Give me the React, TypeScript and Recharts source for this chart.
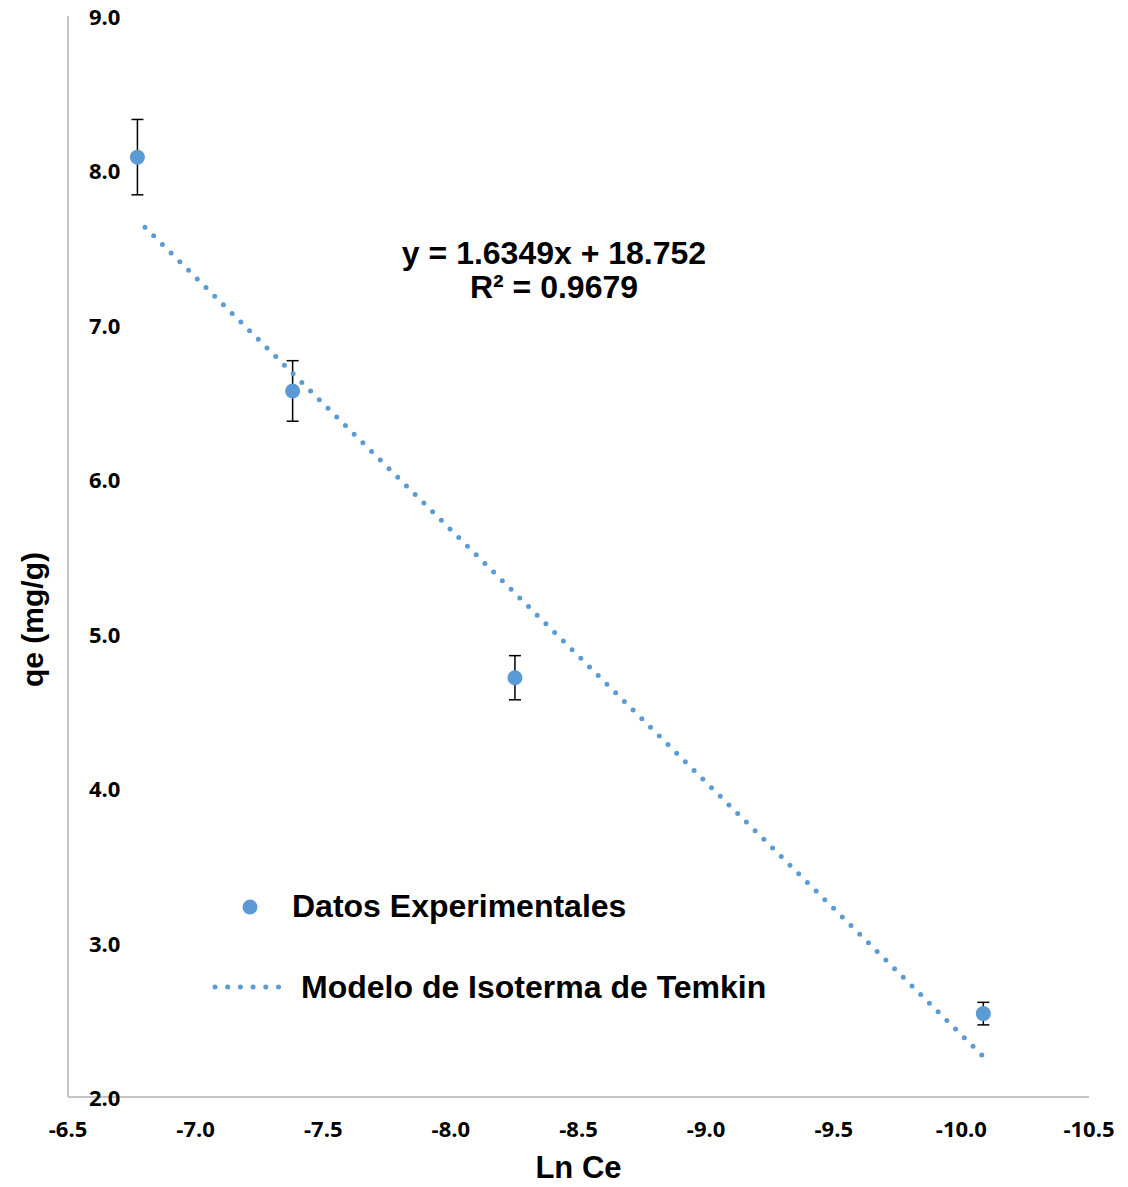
import {
  ComposedChart,
  ErrorBar,
  Legend,
  Line,
  Scatter,
  XAxis,
  YAxis,
} from "recharts";

// Temkin isotherm: experimental points (Ln Ce vs qe) with error bars
const lnCe = [-6.772, -7.38, -8.251, -10.086];
const qe = [8.086, 6.572, 4.715, 2.54];
const qeErr = [0.244, 0.196, 0.143, 0.073];

const xTicks = [-6.5, -7.0, -7.5, -8.0, -8.5, -9.0, -9.5, -10.0, -10.5];
const yTicks = [2, 3, 4, 5, 6, 7, 8, 9];

// linear fit reported on the chart
const slope = 1.6349;
const intercept = 18.752;
const r2 = 0.9679;

const BLUE = "#5B9BD5";
const AXIS_GRAY = "#C4C4C4";
const TICK_FONT = "'Open Sans', sans-serif";
const TITLE_FONT = "'Liberation Sans', Arial, sans-serif";

const points = lnCe.map((x, i) => ({ x, y: qe[i], err: qeErr[i] }));
const trend = [Math.max(...lnCe), Math.min(...lnCe)].map((x) => ({
  x,
  fit: slope * x + intercept,
}));

function XTick({ x, y, payload }: any) {
  return (
    <text
      x={x}
      y={y + 31}
      textAnchor="middle"
      dominantBaseline="central"
      fontFamily={TICK_FONT}
      fontWeight={700}
      fontSize={22}
      fill="#000"
    >
      {Number(payload.value).toFixed(1)}
    </text>
  );
}

function YTick({ x, y, payload }: any) {
  return (
    <text
      x={x + 21}
      y={y}
      textAnchor="start"
      dominantBaseline="central"
      fontFamily={TICK_FONT}
      fontWeight={700}
      fontSize={22}
      fill="#000"
    >
      {Number(payload.value).toFixed(1)}
    </text>
  );
}

function YTitle({ viewBox }: any) {
  const cx = viewBox.x + 43;
  const cy = viewBox.y + viewBox.height / 2 + 63;
  return (
    <text
      x={cx}
      y={cy}
      transform={`rotate(-90 ${cx} ${cy})`}
      textAnchor="middle"
      fontFamily={TITLE_FONT}
      fontWeight={700}
      fontSize={30}
      fill="#000"
    >
      qe (mg/g)
    </text>
  );
}

function Dot({ cx, cy }: any) {
  return <circle cx={cx} cy={cy} r={7.5} fill={BLUE} />;
}

function LegendBox() {
  const txt = {
    fontFamily: TITLE_FONT,
    fontWeight: 700,
    fontSize: 32,
    fill: "#000",
  };
  return (
    <svg width={620} height={130}>
      <circle cx={50} cy={27} r={7.5} fill={BLUE} />
      <text x={92} y={37} {...txt}>
        Datos Experimentales
      </text>
      <line
        x1={15}
        x2={79}
        y1={107}
        y2={107}
        stroke={BLUE}
        strokeWidth={5}
        strokeLinecap="round"
        strokeDasharray="0 12.7"
      />
      <text x={101} y={118} {...txt}>
        Modelo de Isoterma de Temkin
      </text>
    </svg>
  );
}

export default function App() {
  const eqStyle = {
    fontFamily: TITLE_FONT,
    fontWeight: 700,
    fontSize: 32,
    fill: "#000",
  };
  return (
    <div style={{ position: "absolute", left: 0, top: 0, background: "#fff" }}>
      <ComposedChart
        width={1128}
        height={1187}
        margin={{ top: 16, right: 39, bottom: 0, left: 0 }}
      >
        <XAxis
          type="number"
          dataKey="x"
          domain={[-10.5, -6.5]}
          ticks={xTicks}
          reversed
          allowDataOverflow
          height={90}
          tickLine={false}
          tickSize={0}
          tickMargin={0}
          tick={<XTick />}
          axisLine={{ stroke: AXIS_GRAY, strokeWidth: 2 }}
          label={{
            value: "Ln Ce",
            position: "insideBottom",
            offset: 9,
            fontFamily: TITLE_FONT,
            fontWeight: 700,
            fontSize: 31,
            fill: "#000",
          }}
        />
        <YAxis
          type="number"
          domain={[2, 9]}
          ticks={yTicks}
          width={68}
          tickLine={false}
          tickSize={0}
          tickMargin={0}
          tick={<YTick />}
          axisLine={{ stroke: AXIS_GRAY, strokeWidth: 2 }}
          label={{ content: YTitle }}
        />
        <Legend
          layout="vertical"
          align="center"
          verticalAlign="middle"
          content={<LegendBox />}
          wrapperStyle={{ left: 200, top: 880, width: 620, height: 130 }}
        />
        <Scatter
          name="Datos Experimentales"
          data={points}
          dataKey="y"
          fill={BLUE}
          shape={<Dot />}
          isAnimationActive={false}
        >
          <ErrorBar
            dataKey="err"
            direction="y"
            width={6}
            stroke="#000"
            strokeWidth={1.5}
          />
        </Scatter>
        <Line
          name="Modelo de Isoterma de Temkin"
          data={trend}
          dataKey="fit"
          stroke={BLUE}
          strokeWidth={5}
          strokeLinecap="round"
          strokeDasharray="0 12.26"
          strokeDashoffset={1.66}
          dot={false}
          activeDot={false}
          isAnimationActive={false}
        />
        <text x={554} y={264} textAnchor="middle" {...eqStyle}>
          {`y = ${slope}x + ${intercept}`}
        </text>
        <text x={554} y={298} textAnchor="middle" {...eqStyle}>
          {`R² = ${r2}`}
        </text>
      </ComposedChart>
    </div>
  );
}
